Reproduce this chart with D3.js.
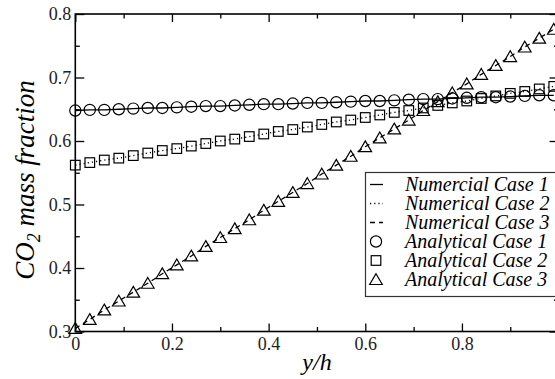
<!DOCTYPE html>
<html>
<head>
<meta charset="utf-8">
<script src="https://cdn.jsdelivr.net/npm/d3@7"></script>
<style>
  body { margin: 0; background: #fff; }
  svg { display: block; font-family: "Liberation Serif", "Times New Roman", serif; }
</style>
</head>
<body>
<svg id="svg" width="555" height="379"></svg>
<script>
// y/h positions of the points
let yh = [0, 0.03, 0.06, 0.09, 0.12, 0.15, 0.18, 0.21, 0.24, 0.27, 0.30, 0.33, 0.36, 0.39, 0.42, 0.45, 0.48,
          0.51, 0.54, 0.57, 0.60, 0.63, 0.66, 0.69, 0.72, 0.75, 0.78, 0.81, 0.84, 0.87, 0.90, 0.93, 0.96, 0.99];

let case1 = [0.648, 0.649, 0.649, 0.650, 0.651, 0.652, 0.652, 0.653, 0.654, 0.655, 0.655, 0.656, 0.657, 0.658, 0.658, 0.659, 0.660,
             0.660, 0.661, 0.662, 0.663, 0.663, 0.664, 0.665, 0.666, 0.666, 0.667, 0.668, 0.669, 0.669, 0.670, 0.671, 0.672, 0.672];
let case2 = [0.562, 0.566, 0.570, 0.573, 0.577, 0.581, 0.585, 0.588, 0.592, 0.596, 0.600, 0.603, 0.607, 0.611, 0.615, 0.618, 0.622,
             0.626, 0.630, 0.633, 0.637, 0.641, 0.645, 0.648, 0.652, 0.656, 0.660, 0.663, 0.667, 0.671, 0.675, 0.678, 0.682, 0.686];
let case3 = [0.305, 0.319, 0.334, 0.348, 0.362, 0.376, 0.391, 0.405, 0.419, 0.434, 0.448, 0.462, 0.476, 0.491, 0.505, 0.519, 0.533,
             0.548, 0.562, 0.576, 0.591, 0.605, 0.619, 0.633, 0.648, 0.662, 0.676, 0.690, 0.705, 0.719, 0.733, 0.748, 0.762, 0.776];

let xTicks = [0, 0.2, 0.4, 0.6, 0.8];
let xTickLabels = ["0", "0.2", "0.4", "0.6", "0.8"];
let xMinorTicks = [0.1, 0.3, 0.5, 0.7, 0.9, 1];
let yTicks = [0.3, 0.4, 0.5, 0.6, 0.7, 0.8];
let yTickLabels = ["0.3", "0.4", "0.5", "0.6", "0.7", "0.8"];
let yMinorTicks = [0.35, 0.45, 0.55, 0.65, 0.75];

let legendNames = ["Numercial Case 1", "Numerical Case 2", "Numerical Case 3",
                   "Analytical Case 1", "Analytical Case 2", "Analytical Case 3"];

let svg = d3.select('#svg');
let padL = 75.3, padR = 558.6, padT = 14, padB = 331.5;

let x = d3.scaleLinear().domain([0, 1]).range([padL, padR]);
let y = d3.scaleLinear().domain([0.3, 0.8]).range([padB, padT]);

function tidy(g) {
  g.select('.domain').remove();
  g.selectAll('line').attr('stroke', '#000').attr('stroke-width', 1.3);
  g.selectAll('text').attr('fill', '#222').style('font-size', '18px').style('font-family', '"Liberation Serif", serif');
}

// major + minor ticks on all four sides, pointing inward
svg.append('g').attr('transform', 'translate(0,' + padB + ')')
  .call(d3.axisBottom(x).tickValues(xTicks).tickSize(-8).tickPadding(6).tickFormat((d, i) => xTickLabels[i]))
  .call(tidy);
svg.append('g').attr('transform', 'translate(0,' + padB + ')')
  .call(d3.axisBottom(x).tickValues(xMinorTicks).tickSize(-4.5).tickFormat(''))
  .call(tidy);
svg.append('g').attr('transform', 'translate(0,' + padT + ')')
  .call(d3.axisTop(x).tickValues(xTicks).tickSize(-8).tickFormat(''))
  .call(tidy);
svg.append('g').attr('transform', 'translate(0,' + padT + ')')
  .call(d3.axisTop(x).tickValues(xMinorTicks).tickSize(-4.5).tickFormat(''))
  .call(tidy);

svg.append('g').attr('transform', 'translate(' + padL + ',0)')
  .call(d3.axisLeft(y).tickValues(yTicks).tickSize(-9).tickPadding(4).tickFormat((d, i) => yTickLabels[i]))
  .call(tidy);
svg.append('g').attr('transform', 'translate(' + padL + ',0)')
  .call(d3.axisLeft(y).tickValues(yMinorTicks).tickSize(-4.5).tickFormat(''))
  .call(tidy);
svg.append('g').attr('transform', 'translate(' + padR + ',0)')
  .call(d3.axisRight(y).tickValues(yTicks).tickSize(-9).tickFormat(''))
  .call(tidy);
svg.append('g').attr('transform', 'translate(' + padR + ',0)')
  .call(d3.axisRight(y).tickValues(yMinorTicks).tickSize(-4.5).tickFormat(''))
  .call(tidy);

svg.append('rect')
  .attr('x', padL).attr('y', padT)
  .attr('width', padR - padL).attr('height', padB - padT)
  .attr('fill', 'none').attr('stroke', '#000').attr('stroke-width', 1.6);

// numerical lines
let series = [
  { values: case1, dash: null, symbol: 'circle' },
  { values: case2, dash: '1.2,3', symbol: 'square' },
  { values: case3, dash: '5,4', symbol: 'triangle' }
];

let line = d3.line().x(d => x(d[0])).y(d => y(d[1]));

series.forEach(s => {
  svg.append('path')
    .datum(yh.map((v, i) => [v, s.values[i]]))
    .attr('fill', 'none')
    .attr('stroke', '#000')
    .attr('stroke-width', 1.3)
    .attr('stroke-dasharray', s.dash)
    .attr('d', line);
});

// analytical symbols
let triPath = 'M0,-5.8L6.3,5L-6.3,5Z';

function drawSymbol(g, kind) {
  if (kind === 'circle') {
    g.append('circle').attr('r', 5.6);
  } else if (kind === 'square') {
    g.append('rect').attr('x', -4.8).attr('y', -4.8).attr('width', 9.6).attr('height', 9.6);
  } else {
    g.append('path').attr('d', triPath);
  }
  g.selectAll('*').attr('fill', 'none').attr('stroke', '#000').attr('stroke-width', 1.2);
}

series.forEach(s => {
  svg.selectAll('sym-' + s.symbol)
    .data(yh.map((v, i) => [v, s.values[i]]))
    .enter()
    .append('g')
      .attr('transform', d => 'translate(' + x(d[0]) + ',' + y(d[1]) + ')')
      .each(function() { drawSymbol(d3.select(this), s.symbol); });
});

// axis titles
svg.append('text')
  .attr('x', 317).attr('y', 370)
  .attr('text-anchor', 'middle')
  .style('font-size', '24px').style('font-style', 'italic')
  .text('y/h');

let ylab = svg.append('text')
  .attr('transform', 'translate(34,180) rotate(-90)')
  .attr('text-anchor', 'middle')
  .style('font-size', '27px').style('font-style', 'italic');
ylab.append('tspan').text('CO');
ylab.append('tspan').attr('dy', 6).style('font-size', '18px').text('2');
ylab.append('tspan').attr('dy', -6).text(' mass fraction');

// legend
let legend = svg.append('g');
legend.append('rect')
  .attr('x', 365.5).attr('y', 172.5)
  .attr('width', 200).attr('height', 124)
  .attr('fill', '#fff').attr('stroke', '#333').attr('stroke-width', 1.2);

legendNames.forEach((name, i) => {
  let cy = 184.5 + i * 19;
  let g = legend.append('g').attr('transform', 'translate(0,' + cy + ')');
  if (i < 3) {
    g.append('line')
      .attr('x1', 370).attr('x2', 383).attr('y1', 0).attr('y2', 0)
      .attr('stroke', '#000').attr('stroke-width', 1.3)
      .attr('stroke-dasharray', series[i].dash);
  } else {
    drawSymbol(g.append('g').attr('transform', 'translate(376,0)'), series[i - 3].symbol);
  }
  g.append('text')
    .attr('x', 405).attr('y', 6.5)
    .style('font-size', '20px').style('font-style', 'italic')
    .text(name);
});
</script>
</body>
</html>
